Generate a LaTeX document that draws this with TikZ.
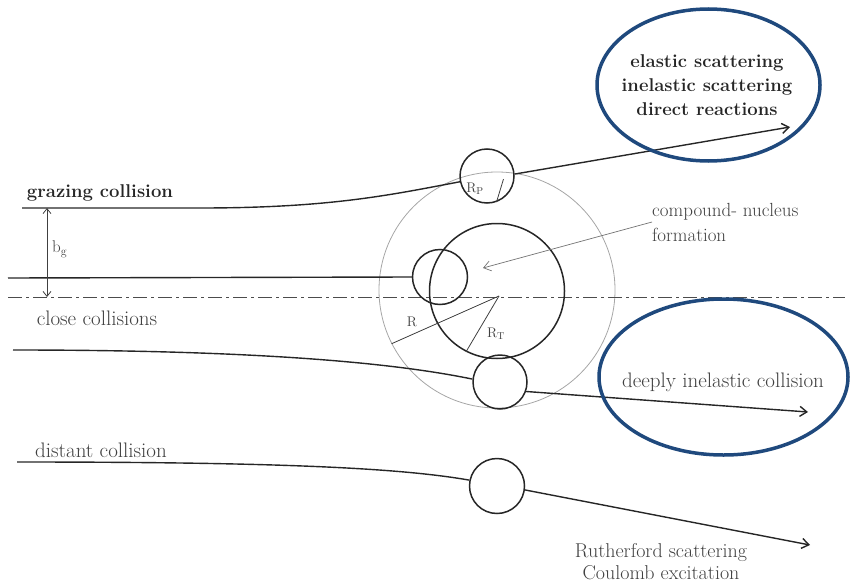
\documentclass[tikz,border=0pt]{standalone}
\usetikzlibrary{shapes.geometric,arrows.meta}
\definecolor{ovalblue}{RGB}{31,73,125}

\begin{document}
\begin{tikzpicture}[x=1pt,y=-1pt,
	nucl/.style={draw=black!85,line width=1.5pt,circle,inner sep=0pt},
	track/.style={draw=black!85,line width=1.4pt},
	oval/.style={draw=ovalblue,line width=3.5pt,ellipse,inner sep=0pt},
	lbl/.style={text=black!75,font=\fontsize{21}{25}\selectfont,inner sep=0pt},
	blbl/.style={text=black!85,font=\fontsize{18.5}{24}\selectfont\bfseries,inner sep=0pt,align=center},
	rlbl/.style={text=black!75,font=\fontsize{14}{16}\selectfont,inner sep=0pt},
	>={Straight Barb[length=7pt,width=10pt]}]
	\useasboundingbox (0,0) rectangle (851,586);

	% interaction radius and symmetry axis
	\node[circle,draw=black!35,line width=0.8pt,minimum size=236pt,inner sep=0pt] (rim) at (497,290) {};
	\coordinate (axL) at (8,297);
	\coordinate (axR) at (845,297);
	\draw[black!70,line width=1pt,dash pattern=on 14pt off 4pt on 3pt off 4pt] (axL) -- (axR);

	% nuclei
	\node[nucl,minimum size=135pt] (tgt) at (497,291) {};
	\node[nucl,minimum size=54pt] (graz) at (487,176) {};
	\node[nucl,minimum size=55pt] (close) at (440,277) {};
	\node[nucl,minimum size=54pt] (deep) at (500,382) {};
	\node[nucl,minimum size=55pt] (dist) at (497,486) {};

	\coordinate (ctr) at (499,296);
	\coordinate (grazS) at (22,208);
	\coordinate (grazK) at (200,208);
	\coordinate (grazE) at (790,127);
	\coordinate (closeS) at (8,278);
	\coordinate (deepS) at (13,350);
	\coordinate (deepE) at (808,412);
	\coordinate (distS) at (17,462);
	\coordinate (distE) at (810,545);
	\coordinate (bgTop) at (47,208);
	\coordinate (bgBot) at (47,297);
	\coordinate (cnTip) at (483,268);

	% trajectories
	\draw[track] (grazS) -- (grazK) .. controls (330,208) and (390,195) .. (graz.192);
	\draw[track,->] (graz.4) -- (grazE);
	\draw[track] (closeS) -- (close.west);
	\draw[track] (deepS) .. controls (250,350) and (390,362) .. (deep.174);
	\draw[track,->] (deep.340) -- (deepE);
	\draw[track] (distS) .. controls (280,462) and (400,468) .. (dist.168);
	\draw[track,->] (dist.352) -- (distE);

	% radii and impact parameter
	\draw[black!75,line width=0.8pt] (ctr) -- (rim.207);
	\draw[black!75,line width=0.8pt] (ctr) -- (tgt.243);
	\draw[black!75,line width=0.8pt] (graz.-70) -- ++(7,-23);
	\draw[black!75,line width=0.8pt,{Straight Barb[length=5pt,width=8pt]}-{Straight Barb[length=5pt,width=8pt]}] (bgTop) -- (bgBot);
	\node[lbl,font=\fontsize{17}{20}\selectfont,anchor=west] (bg) at (52,249) {b$_\mathrm{g}$};
	\node[rlbl] (rR) at (412,322) {R};
	\node[rlbl] (rT) at (496,334) {R$_\mathrm{T}$};
	\node[rlbl] (rP) at (475,189) {R$_\mathrm{P}$};

	% labels
	\node[blbl] (grazT) at (100,193) {grazing collision};
	\node[lbl] (closeT) at (97,318) {close collisions};
	\node[lbl] (distT) at (101,450) {distant collision};
	\node[lbl] (deepT) at (723,382) {deeply inelastic collision};
	\node[lbl,font=\fontsize{20}{22}\selectfont,align=center] (rutT) at (661,562) {Rutherford scattering\\Coulomb excitation};
	\node[lbl,font=\fontsize{19}{25}\selectfont,anchor=west,align=left] (cn) at (652,222) {compound- nucleus\\formation};
	\draw[black!55,line width=0.7pt,->] (cn.west) -- (cnTip);
	\node[blbl] (topT) at (707,85) {elastic scattering\\inelastic scattering\\direct reactions};

	% highlighted outcomes
	\node[oval,minimum width=223pt,minimum height=152pt] (topOval) at (708.5,85) {};
	\node[oval,minimum width=249pt,minimum height=156pt] (deepOval) at (723.5,377) {};
\end{tikzpicture}
\end{document}
